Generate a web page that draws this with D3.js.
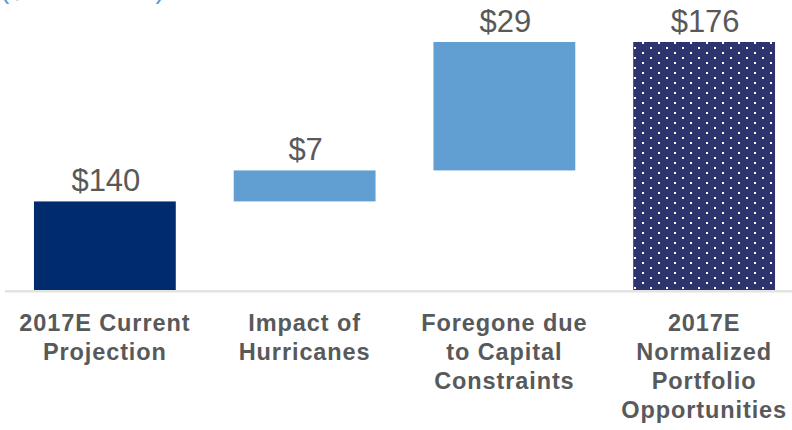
<!DOCTYPE html>
<html>
<head>
<meta charset="utf-8">
<script src="https://cdn.jsdelivr.net/npm/d3@7"></script>
<style>
  html, body { margin: 0; padding: 0; background: #ffffff; }
  svg { display: block; }
</style>
</head>
<body>
<svg id="chart" width="792" height="430"></svg>
<script>
// ---- data ----
const categories = [
  ["2017E Current", "Projection"],
  ["Impact of", "Hurricanes"],
  ["Foregone due", "to Capital", "Constraints"],
  ["2017E", "Normalized", "Portfolio", "Opportunities"]
];
const values = [140, 7, 29, 176];
const kinds = ["total", "delta", "delta", "total"];
const valueLabels = ["$140", "$7", "$29", "$176"];
const axisFloor = 120;   // truncated value axis starts here
const axisTop = 176;
const unitLabel = "($ in millions)";

// ---- layout ----
const W = 792, H = 430;
const baseY = 290, topY = 42;
const svg = d3.select("#chart");

const keys = categories.map((c, i) => "c" + i);
const x = d3.scaleBand().domain(keys).range([5, 804]).paddingInner(0.29).paddingOuter(0.145);
const y = d3.scaleLinear().domain([axisFloor, axisTop]).range([baseY, topY]);

// waterfall segments
let running = 0;
const segs = values.map((v, i) => {
  let lo, hi;
  if (kinds[i] === "total") { lo = axisFloor; hi = v; running = v; }
  else { lo = running; hi = running + v; running = hi; }
  return { key: keys[i], v, lo, hi, kind: kinds[i], label: valueLabels[i], cat: categories[i], i };
});

// pattern for final bar
const defs = svg.append("defs");
const pat = defs.append("pattern").attr("id", "dots").attr("patternUnits", "userSpaceOnUse")
  .attr("width", 16).attr("height", 10);
pat.append("rect").attr("width", 16).attr("height", 10).attr("fill", "#2E356E");
pat.append("rect").attr("x", 2).attr("y", 2).attr("width", 2).attr("height", 2).attr("fill", "#ffffff");
pat.append("rect").attr("x", 10).attr("y", 7).attr("width", 2).attr("height", 2).attr("fill", "#ffffff");

// unit label (clipped at top)
svg.append("text").attr("x", 0).attr("y", -2.5)
  .attr("font-family", "Liberation Sans, Arial, sans-serif").attr("font-size", 28)
  .attr("fill", "#5B9BD5").text(unitLabel);

// axis line
svg.append("line").attr("x1", 5).attr("x2", W).attr("y1", baseY + 1.2).attr("y2", baseY + 1.2)
  .attr("stroke", "#E3E3E3").attr("stroke-width", 2.5);

const fillFor = d => d.kind === "delta" ? "#619FD3" : (d.i === 0 ? "#002C6E" : "url(#dots)");

svg.append("g").selectAll("rect").data(segs).join("rect")
  .attr("x", d => x(d.key))
  .attr("width", x.bandwidth())
  .attr("y", d => y(d.hi))
  .attr("height", d => y(d.lo) - y(d.hi))
  .attr("fill", fillFor);

// value labels
svg.append("g").selectAll("text").data(segs).join("text")
  .attr("x", d => x(d.key) + x.bandwidth() / 2 + 1)
  .attr("y", d => y(d.hi) - 10)
  .attr("text-anchor", "middle")
  .attr("font-family", "Liberation Sans, Arial, sans-serif")
  .attr("font-size", 31)
  .attr("fill", "#595959")
  .text(d => d.label);

// category labels
const cg = svg.append("g").selectAll("text").data(segs).join("text")
  .attr("text-anchor", "middle")
  .attr("font-family", "Liberation Sans, Arial, sans-serif")
  .attr("font-size", 23.5)
  .attr("font-weight", "bold")
  .attr("letter-spacing", "0.9px")
  .attr("fill", "#58595B");
cg.each(function(d) {
  const t = d3.select(this);
  d.cat.forEach((line, j) => {
    t.append("tspan")
      .attr("x", x(d.key) + x.bandwidth() / 2)
      .attr("y", 331 + j * 29)
      .text(line);
  });
});
</script>
</body>
</html>
